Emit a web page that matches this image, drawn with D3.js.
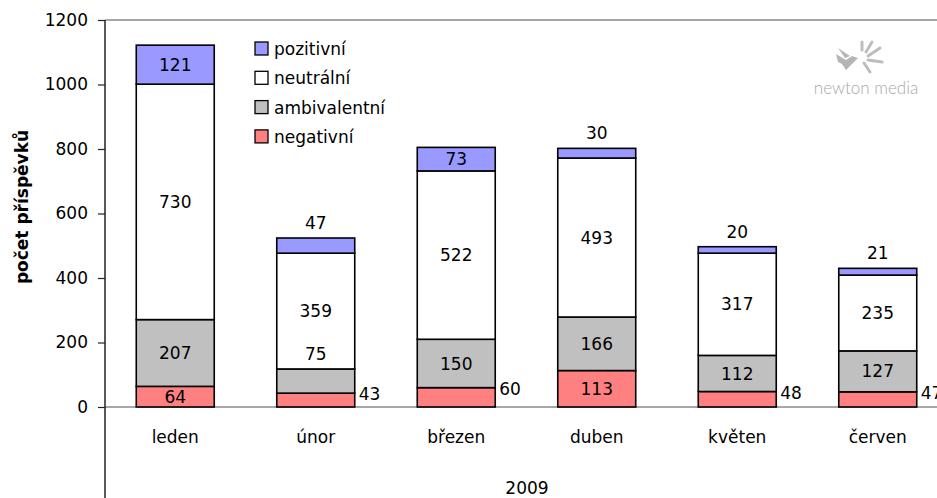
<!DOCTYPE html>
<html>
<head>
<meta charset="utf-8">
<script src="https://cdn.jsdelivr.net/npm/d3@7"></script>
<style>
  body { margin: 0; background: #fff; }
  svg { display: block; font-family: "DejaVu Sans", sans-serif; }
</style>
</head>
<body>
<div id="chart"></div>
<script>
// data
const months = ['leden', 'únor', 'březen', 'duben', 'květen', 'červen'];
const negativni = [64, 43, 60, 113, 48, 47];
const ambivalentni = [207, 75, 150, 166, 112, 127];
const neutralni = [730, 359, 522, 493, 317, 235];
const pozitivni = [121, 47, 73, 30, 20, 21];
const yTicks = [0, 200, 400, 600, 800, 1000, 1200];
const yearLabel = '2009';
const yTitle = 'počet příspěvků';

// label placement: c = centre of segment, a = above segment, r = right of bar
const labelMode = {
    negativni: ['c', 'r', 'r', 'c', 'r', 'r'],
    ambivalentni: ['c', 'a', 'c', 'c', 'c', 'c'],
    neutralni: ['c', 'c', 'c', 'c', 'c', 'c'],
    pozitivni: ['c', 'a', 'c', 'a', 'a', 'a']
};

const series = [
    {key: 'negativni', name: 'negativní', values: negativni, color: '#FF8080'},
    {key: 'ambivalentni', name: 'ambivalentní', values: ambivalentni, color: '#C0C0C0'},
    {key: 'neutralni', name: 'neutrální', values: neutralni, color: '#FFFFFF'},
    {key: 'pozitivni', name: 'pozitivní', values: pozitivni, color: '#9999FF'}
];

let width = 937, height = 498;
let margin = {top: 20, left: 105, bottom: 91};
let plotRight = 948;

let svg = d3.select('#chart').append('svg')
    .attr('width', width)
    .attr('height', height);

let y = d3.scaleLinear().domain([0, 1200]).range([height - margin.bottom, margin.top]);
let x = d3.scaleBand().domain(months).range([margin.left, plotRight]).padding(0);
let barW = x.bandwidth() * 0.555;

// plot frame lines
svg.append('line')
    .attr('x1', margin.left).attr('x2', width)
    .attr('y1', y(1200)).attr('y2', y(1200))
    .style('stroke', '#8a8a8a').style('stroke-width', 1.5);
svg.append('line')
    .attr('x1', margin.left).attr('x2', width)
    .attr('y1', y(0)).attr('y2', y(0))
    .style('stroke', '#8a8a8a').style('stroke-width', 1.5);

// y axis
let yAxis = d3.axisLeft(y).tickValues(yTicks).tickSize(7).tickPadding(10).tickFormat(d3.format('d'));
let yg = svg.append('g')
    .attr('transform', `translate(${margin.left},0)`)
    .call(yAxis);
yg.select('.domain').remove();
yg.selectAll('.tick line').style('stroke', '#222').style('stroke-width', 1.2);
yg.selectAll('.tick text').style('font-size', '17px').style('fill', '#000')
    .style('font-family', '"DejaVu Sans", sans-serif');

svg.append('line')
    .attr('x1', margin.left).attr('x2', margin.left)
    .attr('y1', margin.top).attr('y2', height)
    .style('stroke', '#222').style('stroke-width', 1.5);

// y title
svg.append('text')
    .attr('transform', `translate(28, 207) rotate(-90)`)
    .attr('text-anchor', 'middle')
    .style('font-size', '17px')
    .style('font-weight', 'bold')
    .text(yTitle);

// stacked bars
let rows = months.map((m, i) => {
    let r = {month: m};
    series.forEach(s => r[s.key] = s.values[i]);
    return r;
});
let stack = d3.stack().keys(series.map(s => s.key))(rows);

let layers = svg.append('g').selectAll('g')
    .data(stack)
    .enter().append('g')
    .attr('fill', (d, i) => series[i].color);

layers.selectAll('rect')
    .data(d => d)
    .enter().append('rect')
    .attr('x', d => x(d.data.month) + (x.bandwidth() - barW) / 2)
    .attr('y', d => y(d[1]))
    .attr('width', barW)
    .attr('height', d => y(d[0]) - y(d[1]))
    .style('stroke', '#000')
    .style('stroke-width', 1.6);

// value labels
let labels = svg.append('g').style('font-size', '17px');
stack.forEach((layer, si) => {
    let key = series[si].key;
    layer.forEach((d, i) => {
        let mode = labelMode[key][i];
        let cx = x(d.data.month) + x.bandwidth() / 2;
        let t = labels.append('text').text(series[si].values[i]);
        if (mode === 'c') {
            t.attr('x', cx).attr('y', (y(d[0]) + y(d[1])) / 2)
                .attr('dy', '0.36em').attr('text-anchor', 'middle');
        } else if (mode === 'a') {
            t.attr('x', cx).attr('y', y(d[1]) - 9).attr('text-anchor', 'middle');
        } else {
            t.attr('x', cx + barW / 2 + 4).attr('y', y(d[1]) + 1)
                .attr('dy', '0.36em').attr('text-anchor', 'start');
        }
    });
});

// x category labels
svg.append('g').selectAll('text')
    .data(months)
    .enter().append('text')
    .attr('x', d => x(d) + x.bandwidth() / 2)
    .attr('y', 443)
    .attr('text-anchor', 'middle')
    .style('font-size', '17px')
    .text(d => d);

svg.append('text')
    .attr('x', 527).attr('y', 494)
    .attr('text-anchor', 'middle')
    .style('font-size', '17px')
    .text(yearLabel);

// legend
let legend = svg.append('g').attr('transform', 'translate(255, 42)');
let legendItems = series.slice().reverse();
let li = legend.selectAll('g')
    .data(legendItems)
    .enter().append('g')
    .attr('transform', (d, i) => `translate(0, ${i * 29.3})`);
li.append('rect')
    .attr('width', 13).attr('height', 13)
    .attr('fill', d => d.color)
    .style('stroke', '#000').style('stroke-width', 1.3);
li.append('text')
    .attr('x', 19).attr('y', 7)
    .attr('dy', '0.36em')
    .style('font-size', '17px')
    .text(d => d.name);

// newton media logo
let logo = svg.append('g').style('fill', '#b5b5b5');
logo.append('text')
    .attr('x', 866).attr('y', 94)
    .attr('text-anchor', 'middle')
    .style('font-family', 'Lato, sans-serif')
    .style('font-weight', 300)
    .style('font-size', '17px')
    .style('fill', '#a8a8a8')
    .text('newton media');
logo.append('path')
    .attr('d', 'M836,54 L846,60 L852,56 L858,58 L852,64 L846,70 L842,64 L838,62 Z');
logo.append('path')
    .attr('d', 'M838,48 L850,56 L845,58 Z');
let rays = [[866, 52, 872, 42], [868, 56, 880, 48], [868, 60, 882, 62], [864, 63, 870, 72], [862, 50, 862, 42]];
logo.selectAll('line.ray')
    .data(rays)
    .enter().append('line')
    .attr('class', 'ray')
    .attr('x1', d => d[0]).attr('y1', d => d[1])
    .attr('x2', d => d[2]).attr('y2', d => d[3])
    .style('stroke', '#bdbdbd').style('stroke-width', 3)
    .style('stroke-linecap', 'round');
</script>
</body>
</html>
